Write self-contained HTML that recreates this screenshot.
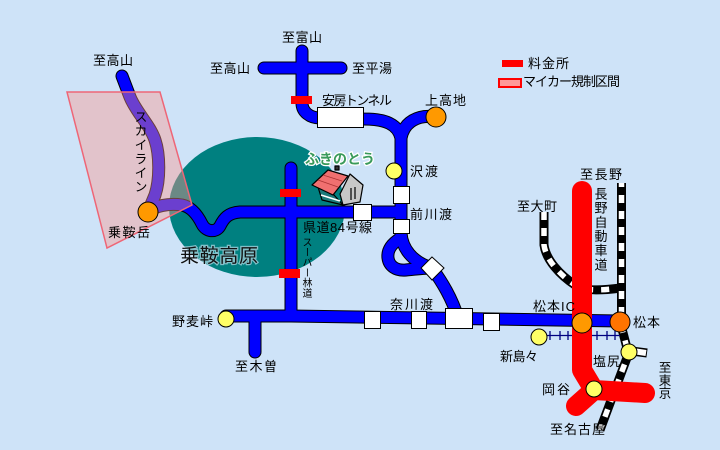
<!DOCTYPE html>
<html><head><meta charset="utf-8">
<style>
html,body{margin:0;padding:0;}
body{width:720px;height:450px;overflow:hidden;background:#cee3f8;position:relative;font-family:"Liberation Sans","Noto Sans CJK JP",sans-serif;}
svg{position:absolute;left:0;top:0;}
.v{position:absolute;writing-mode:vertical-rl;line-height:1;color:#000;font-family:"Liberation Sans","Noto Sans CJK JP",sans-serif;white-space:nowrap;}
</style></head><body>
<svg width="720" height="450" viewBox="0 0 720 450" xmlns="http://www.w3.org/2000/svg" font-family="Liberation Sans, Noto Sans CJK JP, sans-serif">
<rect width="720" height="450" fill="#cee3f8"/>
<!-- plateau -->
<ellipse cx="257" cy="207" rx="88" ry="70" fill="#008080"/>

<!-- blue roads: outlines -->
<g fill="none" stroke="#000" stroke-width="13" stroke-linecap="round" stroke-linejoin="round">
<path d="M122,76 L130,97 C136,112 150,125 155,140 C160,155 160,180 155,195 L148,212"/>
<path d="M148,212 C155,206 168,203 182,205 C192,207 198,216 202,224 C206,232 216,233 220,226 C224,218 228,213 240,212 L401,212"/>
<path d="M291,168 L291,316"/>
<path d="M226,316 L291,316 L460,318.5 L620,321"/>
<path d="M255,316 L255,352"/>
<path d="M264,68 L341,68"/>
<path d="M302,51 L302,103 C302,112 310,118 320,118 L364,119 C385,119 398,124 401,138"/>
<path d="M436,117 C418,114 404,122 401,138"/>
<path d="M401,130 L401,238"/>
<path d="M401,238 C392,243 387,250 388,258 C389,266 396,271 406,270 C416,269 424,268 432,268"/>
<path d="M401,233 C402,248 412,262 432,268"/>
<path d="M432,268 C442,282 452,298 458,318"/>
</g>
<g fill="none" stroke="#0000ff" stroke-width="11" stroke-linecap="round" stroke-linejoin="round">
<path d="M122,76 L130,97 C136,112 150,125 155,140 C160,155 160,180 155,195 L148,212"/>
<path d="M148,212 C155,206 168,203 182,205 C192,207 198,216 202,224 C206,232 216,233 220,226 C224,218 228,213 240,212 L401,212"/>
<path d="M291,168 L291,316"/>
<path d="M226,316 L291,316 L460,318.5 L620,321"/>
<path d="M255,316 L255,352"/>
<path d="M264,68 L341,68"/>
<path d="M302,51 L302,103 C302,112 310,118 320,118 L364,119 C385,119 398,124 401,138"/>
<path d="M436,117 C418,114 404,122 401,138"/>
<path d="M401,130 L401,238"/>
<path d="M401,238 C392,243 387,250 388,258 C389,266 396,271 406,270 C416,269 424,268 432,268"/>
<path d="M401,233 C402,248 412,262 432,268"/>
<path d="M432,268 C442,282 452,298 458,318"/>
</g>

<!-- restricted zone overlay -->
<polygon points="67,92 160,92 192,205 107,248" fill="rgb(255,150,140)" fill-opacity="0.42" stroke="#ee6677" stroke-width="1.5"/>

<!-- railways -->
<g fill="none" stroke-linecap="butt">
<path d="M544,212 L544,245 C546,260 560,275 575,285 C585,292 605,290 621,288" stroke="#000" stroke-width="9"/>
<path d="M544,212 L544,245 C546,260 560,275 575,285 C585,292 605,290 621,288" stroke="#fff" stroke-width="5.5" stroke-dasharray="8 8"/>
<path d="M621.5,183 L621.5,322" stroke="#000" stroke-width="9"/>
<path d="M621.5,183 L621.5,322" stroke="#fff" stroke-width="5.5" stroke-dasharray="8 8" stroke-dashoffset="4"/>
<path d="M621,325 L628,352" stroke="#000" stroke-width="9"/>
<path d="M621,325 L628,352" stroke="#fff" stroke-width="5.5" stroke-dasharray="8 8"/>
<path d="M632,351 L647,353" stroke="#000" stroke-width="9"/>
<path d="M633,351 L646,353" stroke="#fff" stroke-width="6"/>
<path d="M628,355 L600,430" stroke="#000" stroke-width="9"/>
<path d="M628,355 L600,430" stroke="#fff" stroke-width="5.5" stroke-dasharray="8 8" stroke-dashoffset="6"/>
</g>
<!-- Matsumoto Dentetsu -->
<g stroke="#000080" stroke-width="1.3">
<line x1="547" y1="335.5" x2="620" y2="335.5"/>
<line x1="550" y1="331" x2="550" y2="340"/>
<line x1="560" y1="331" x2="560" y2="340"/>
<line x1="568" y1="331" x2="568" y2="340"/>
<line x1="597" y1="331" x2="597" y2="340"/>
<line x1="607" y1="331" x2="607" y2="340"/>
<line x1="615" y1="331" x2="615" y2="340"/>
</g>

<!-- expressway -->
<g fill="none" stroke="#ff0000" stroke-width="20" stroke-linecap="round" stroke-linejoin="round">
<path d="M582,191 L582,370 L594,390 L645,393"/>
<path d="M594,390 L576,406"/>
</g>

<!-- toll gates -->
<rect x="291" y="96" width="21" height="8" fill="#ff0000"/>
<rect x="280" y="189" width="21" height="8" fill="#ff0000"/>
<rect x="279" y="269" width="21" height="9" fill="#ff0000"/>

<!-- white boxes -->
<g fill="#fff" stroke="#000" stroke-width="1">
<rect x="317.5" y="107.5" width="46" height="20"/>
<rect x="393.5" y="186.5" width="16" height="17"/>
<rect x="353.5" y="204.5" width="18" height="16"/>
<rect x="393.5" y="219.5" width="16" height="14"/>
<polygon points="432,257 444,268 432,280 421,268"/>
<rect x="364.5" y="311.5" width="16" height="17"/>
<rect x="411.5" y="311.5" width="15" height="17"/>
<rect x="445.5" y="308.5" width="27" height="20"/>
<rect x="483.5" y="313.5" width="16" height="17"/>
</g>

<!-- stations / points -->
<g stroke="#000" stroke-width="1">
<circle cx="148" cy="212" r="10" fill="#ff9900"/>
<circle cx="436" cy="117" r="10" fill="#ff9900"/>
<circle cx="582" cy="323" r="10" fill="#ff9900"/>
<circle cx="620" cy="322" r="10" fill="#ff7400"/>
<circle cx="394" cy="171" r="8" fill="#ffff66"/>
<circle cx="226" cy="319" r="8" fill="#ffff66"/>
<circle cx="539" cy="337" r="8" fill="#ffff66"/>
<circle cx="629" cy="352" r="8" fill="#ffff66"/>
<circle cx="594" cy="389" r="8" fill="#ffff66"/>
</g>

<!-- house -->
<g stroke="#000" stroke-width="1.2" stroke-linejoin="round">
<polygon points="340,194 350,174 363,185 360,202 343,205" fill="#c8c8c8"/>
<polygon points="318,187 334,195 343,205 322,200" fill="#1a7a7a"/>
<line x1="321" y1="195" x2="340" y2="201" stroke="#fff" stroke-width="1.5"/>
<polygon points="312,185 328,170 348,176 333,195" fill="#f07070"/>
<line x1="318" y1="180" x2="338" y2="187" stroke="#a33" stroke-width="0.8"/>
<line x1="323" y1="175" x2="342" y2="181" stroke="#a33" stroke-width="0.8"/>
<rect x="335" y="166" width="4" height="4" fill="#333"/>
<line x1="351" y1="188" x2="351" y2="200"/>
<line x1="355" y1="187" x2="355" y2="199"/>
</g>
<text x="305" y="164" font-size="14" font-weight="bold" fill="#3a9a5a" stroke="#fff" stroke-width="2.5" paint-order="stroke" textLength="70" lengthAdjust="spacingAndGlyphs">ふきのとう</text>

<!-- legend -->
<rect x="502" y="60" width="21" height="7" fill="#ff0000"/>
<rect x="499" y="79" width="22" height="8" fill="#ff9999" stroke="#ff0000" stroke-width="2"/>

<!-- labels -->
<g font-size="13" fill="#000">
<text x="93" y="65" textLength="40">至高山</text>
<text x="210" y="73" textLength="40">至高山</text>
<text x="282" y="42" textLength="40">至富山</text>
<text x="352" y="73" textLength="40">至平湯</text>
<text x="322" y="105" textLength="70">安房トンネル</text>
<text x="425" y="105" textLength="41">上高地</text>
<text x="108" y="237" textLength="42">乗鞍岳</text>
<text x="410" y="176" textLength="28">沢渡</text>
<text x="410" y="219" textLength="42">前川渡</text>
<text x="303" y="232" textLength="69">県道84号線</text>
<text x="390" y="309" textLength="43">奈川渡</text>
<text x="172" y="326" textLength="41">野麦峠</text>
<text x="235" y="371" textLength="42">至木曽</text>
<text x="533" y="311" textLength="42">松本IC</text>
<text x="633" y="327" textLength="27">松本</text>
<text x="500" y="361" textLength="38">新島々</text>
<text x="593" y="366" textLength="27">塩尻</text>
<text x="542" y="394" textLength="28">岡谷</text>
<text x="550" y="434" textLength="55">至名古屋</text>
<text x="580" y="179" textLength="42">至長野</text>
<text x="517" y="211" textLength="40">至大町</text>
<text x="528" y="68" textLength="41">料金所</text>
<text x="523" y="86" textLength="97">マイカー規制区間</text>
</g>
<text x="180" y="262" font-size="19" fill="#111" stroke="#d8eaf8" stroke-width="2.5" stroke-opacity="0.6" paint-order="stroke" textLength="78">乗鞍高原</text>
</svg>

<div class="v" style="left:133.5px;top:110px;font-size:13px;letter-spacing:1px;">スカイライン</div>
<div class="v" style="left:593.5px;top:187px;font-size:13px;letter-spacing:1.2px;">長野自動車道</div>
<div class="v" style="left:657px;top:361px;font-size:12.5px;letter-spacing:0.3px;">至東京</div>
<div class="v" style="left:300px;top:237px;font-size:10px;letter-spacing:0.2px;">スーパー林道</div>
</body></html>
